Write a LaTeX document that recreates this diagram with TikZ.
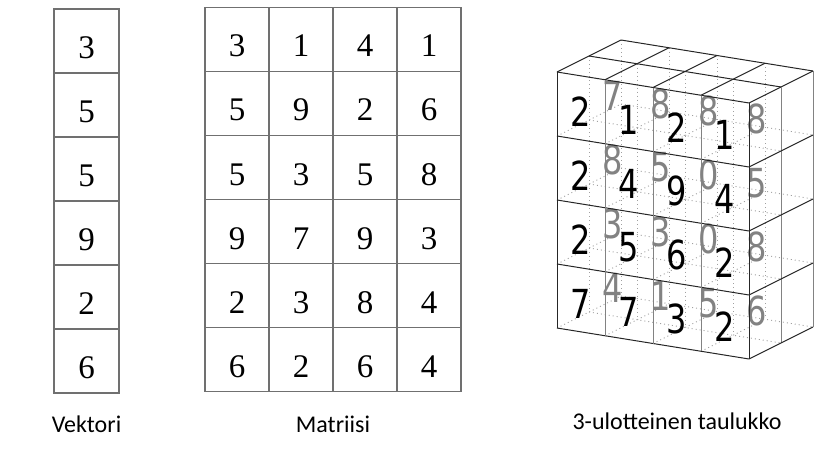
\documentclass[tikz,border=0pt]{standalone}
\usepackage{fontspec}
\setmainfont{Carlito}
\newfontfamily\serifnum{Liberation Serif}
\newfontfamily\sansnum[FakeStretch=0.8]{DejaVu Sans}
\definecolor{linegray}{RGB}{112,112,112}
\definecolor{backgray}{RGB}{130,130,130}
\definecolor{dotgray}{RGB}{160,160,160}

\begin{document}
\begin{tikzpicture}[
    x=1pt, y=-1pt,
    cell/.style={draw=linegray, line width=1.5pt, rectangle, minimum width=64pt, minimum height=64pt, inner sep=0pt, text height=35pt, text depth=0pt, font=\serifnum\fontsize{33}{40}\selectfont},
    vcell/.style={cell, minimum width=65pt},
    caption/.style={font=\fontsize{24}{29}\selectfont, anchor=base},
    frontnum/.style={font=\sansnum\fontsize{40}{48}\selectfont, inner sep=0pt},
    backnum/.style={frontnum, text=backgray},
    edge/.style={line width=1pt, black!85},
    vedge/.style={line width=1pt, backgray},
    hidden/.style={line width=0.9pt, dotgray, dash pattern=on 1pt off 3pt}
]
\useasboundingbox (0,0) rectangle (840,468);

% 1. Vektori (yksi sarake)
\foreach \v [count=\i from 0] in {3,5,5,9,2,6}
    \node[vcell] (v-\i) at (86.5, 41+64*\i) {\v};

% 2. Matriisi 6 x 4
\foreach \vals [count=\r from 0] in {{3,1,4,1},{5,9,2,6},{5,3,5,8},{9,7,9,3},{2,3,8,4},{6,2,6,4}}
    \foreach \v [count=\c from 0] in \vals
        \node[cell] (m-\r-\c) at (237+64*\c, 39.5+64*\r) {\v};

% 3. Kolmiulotteinen taulukko (x = sarake, y = rivi, z = syvyys)
\begin{scope}[shift={(557,72)}, x={(48pt,-7.75pt)}, y={(0pt,-64pt)}, z={(32pt,16pt)}]
    % piilossa olevat viivat pisteinä
    \foreach \d in {1,2} {
        \foreach \c in {0,...,3} \draw[hidden] (\c,0,\d) -- (\c,4,\d);
        \foreach \r in {1,...,4} \draw[hidden] (0,\r,\d) -- (4,\r,\d);
    }
    \foreach \c in {0,...,3}
        \foreach \r in {1,...,4} \draw[hidden] (\c,\r,0) -- (\c,\r,2);

    % takakerroksen luvut (harmaa)
    \foreach \vals [count=\r from 0] in {{7,8,8,8},{8,5,0,5},{3,3,0,8},{4,1,5,6}}
        \foreach \v [count=\c from 0] in \vals
            \node[backnum] (b-\r-\c) at (\c+0.5, \r+0.56, 1) {\v};

    % etupinta
    \foreach \r in {0,...,4} \draw[edge] (0,\r,0) -- (4,\r,0);
    \draw[edge] (0,0,0) -- (0,4,0);
    \draw[edge] (4,0,0) -- (4,4,0);
    \foreach \c in {1,2,3} \draw[vedge] (\c,0,0) -- (\c,4,0);

    % yläpinta
    \foreach \d in {1,2} \draw[edge] (0,0,\d) -- (4,0,\d);
    \foreach \c in {0,...,4} \draw[edge] (\c,0,0) -- (\c,0,2);

    % oikea sivupinta
    \foreach \d in {1,2} \draw[vedge] (4,0,\d) -- (4,4,\d);
    \foreach \r in {1,...,4} \draw[edge] (4,\r,0) -- (4,\r,2);

    % etukerroksen luvut
    \foreach \vals [count=\r from 0] in {{2,1,2,1},{2,4,9,4},{2,5,6,2},{7,7,3,2}}
        \foreach \v [count=\c from 0] in \vals
            \node[frontnum] (f-\r-\c) at (\c+0.5, \r+0.56, 0) {\v};
\end{scope}

% 4. Otsikot
\node[caption] (vlabel) at (86.5, 432) {Vektori};
\node[caption] (mlabel) at (333, 432) {Matriisi};
\node[caption] (tlabel) at (677, 429) {3-ulotteinen taulukko};

\end{tikzpicture}
\end{document}
